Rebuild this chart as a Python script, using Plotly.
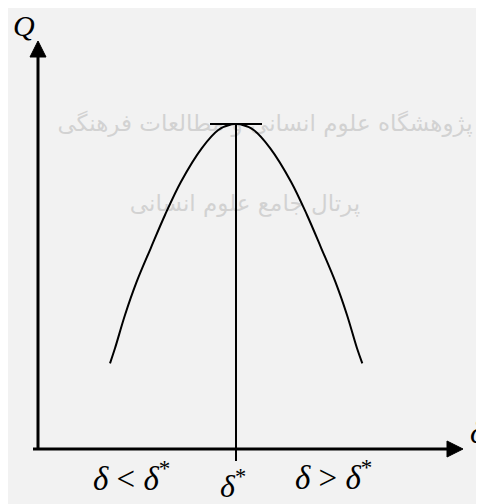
import plotly.graph_objects as go

# ---- data (schematic units: origin at axis intersection) ----
delta_star = 198
q_peak = 325

curve_delta = [72, 77, 87, 98.7, 112.7, 127, 143, 163.7, 180.3, 193.7, 198,
               202.3, 215.7, 232.3, 253, 269, 283.3, 297.3, 309, 319, 324.3]
curve_q = [85.7, 100.7, 134, 167.3, 200.7, 234, 267.3, 300.7, 319, 324.7, 325,
           324.7, 319, 300.7, 267.3, 234, 200.7, 167.3, 134, 100.7, 85.7]

x_axis_start, x_axis_end, x_tip = -5, 409, 425
y_axis_start, y_axis_end, y_tip = -1, 392, 408
arrow_half = 8
vline_bottom = -12
tick_half = 26

labels = {
    "Q": "<i>Q</i>",
    "delta": "<i>δ</i>",
    "lt": "<i>δ</i> &lt; <i>δ</i><sup>*</sup>",
    "star": "<i>δ</i><sup>*</sup>",
    "gt": "<i>δ</i> &gt; <i>δ</i><sup>*</sup>",
}
watermark = ["پژوهشگاه علوم انسانی و مطالعات فرهنگی", "پرتال جامع علوم انسانی"]

fig = go.Figure()

# watermark (drawn first, beneath everything)
fig.add_trace(go.Scatter(
    x=[227, 207], y=[324, 244], mode="text", text=watermark,
    textfont=dict(family="DejaVu Sans", size=23, color="#d2d2d2"),
    hoverinfo="skip", showlegend=False))

black = "#000000"
# axes
fig.add_trace(go.Scatter(x=[x_axis_start, x_axis_end], y=[0, 0], mode="lines",
                         line=dict(color=black, width=3), showlegend=False))
fig.add_trace(go.Scatter(x=[0, 0], y=[y_axis_start, y_axis_end], mode="lines",
                         line=dict(color=black, width=3), showlegend=False))
# arrowheads
fig.add_trace(go.Scatter(x=[x_axis_end, x_tip, x_axis_end, x_axis_end],
                         y=[arrow_half, 0, -arrow_half, arrow_half],
                         mode="lines", fill="toself", fillcolor=black,
                         line=dict(color=black, width=1), showlegend=False))
fig.add_trace(go.Scatter(x=[-arrow_half, 0, arrow_half, -arrow_half],
                         y=[y_axis_end, y_tip, y_axis_end, y_axis_end],
                         mode="lines", fill="toself", fillcolor=black,
                         line=dict(color=black, width=1), showlegend=False))
# vertical line at delta*
fig.add_trace(go.Scatter(x=[delta_star, delta_star], y=[vline_bottom, q_peak],
                         mode="lines", line=dict(color=black, width=2),
                         showlegend=False))
# horizontal tick at peak
fig.add_trace(go.Scatter(x=[delta_star - tick_half, delta_star + tick_half],
                         y=[q_peak, q_peak], mode="lines",
                         line=dict(color=black, width=2), showlegend=False))
# curve
fig.add_trace(go.Scatter(x=curve_delta, y=curve_q, mode="lines",
                         line=dict(color=black, width=2, shape="spline"),
                         showlegend=False))

tf = dict(family="Liberation Serif", color=black)
ann = [
    dict(x=-14, y=424, text=labels["Q"], size=30),
    dict(x=440, y=17, text=labels["delta"], size=33),
    dict(x=93, y=-27, text=labels["lt"], size=33),
    dict(x=195, y=-35, text=labels["star"], size=32),
    dict(x=295, y=-26, text=labels["gt"], size=33),
]
for a in ann:
    fig.add_annotation(x=a["x"], y=a["y"], text=a["text"], showarrow=False,
                       xanchor="center", yanchor="middle",
                       font=dict(tf, size=a["size"]))

fig.update_layout(
    width=476, height=496,
    margin=dict(l=0, r=0, t=0, b=0),
    paper_bgcolor="#f2f2f2", plot_bgcolor="#f2f2f2",
    xaxis=dict(range=[-30, 446], visible=False, fixedrange=True),
    yaxis=dict(range=[-55, 441], visible=False, fixedrange=True),
    showlegend=False,
)
fig.write_html("out.html")
